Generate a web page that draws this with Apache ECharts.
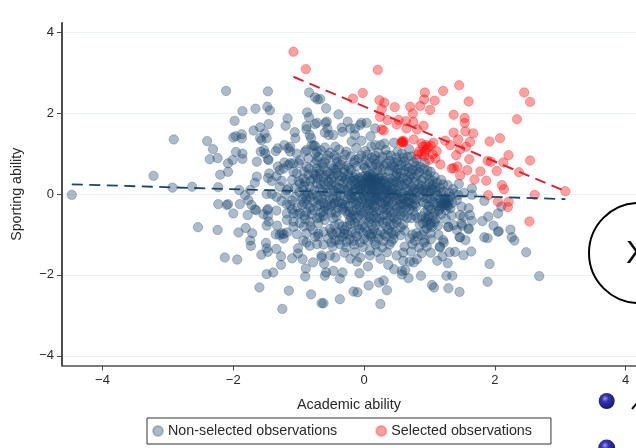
<!DOCTYPE html>
<html><head><meta charset="utf-8">
<style>html,body{margin:0;padding:0;background:#fff;overflow:hidden}#c{width:636px;height:448px}</style>
<script src="https://cdn.jsdelivr.net/npm/echarts@6/dist/echarts.min.js"></script>
</head><body><div id="c"></div>
<script>
const xTicks=[-4,-2,0,2,4];
const yTicks=[-4,-2,0,2,4];
const seriesNames=['Non-selected observations','Selected observations'];
const fitNonSelected=[[-4.47,0.24],[3.08,-0.125]];
const fitSelected=[[-1.08,2.9],[3.08,0.07]];
const selected=[[-1.08,3.52],[-0.89,3.09],[0.21,3.07],[-0.02,2.5],[-0.17,2.36],[0.235,2.32],[0.31,2.26],[0.27,2.1],[0.47,2.15],[0.245,1.91],[0.36,1.83],[0.27,1.6],[0.3,1.57],[0.53,1.83],[0.5,1.72],[0.64,1.8],[0.65,1.62],[0.755,1.78],[0.81,1.6],[0.91,1.69],[0.705,2.16],[0.745,1.99],[0.86,2.18],[0.92,2.34],[0.93,2.51],[1.08,2.31],[1.01,2.08],[1.21,2.55],[1.455,2.69],[1.6,2.29],[1.37,1.96],[1.54,1.88],[1.54,1.76],[1.55,1.55],[1.67,1.5],[1.37,1.52],[1.62,1.29],[1.56,1.17],[1.44,1.35],[1.24,1.32],[1.32,1.21],[1.47,1.11],[1.41,0.96],[1.61,0.86],[1.43,0.68],[1.58,0.59],[1.47,0.46],[1.34,0.63],[1.69,0.36],[1.78,0.56],[1.87,0.33],[2.03,0.57],[1.89,0.82],[1.94,0.8],[2.13,0.78],[2.21,0.96],[1.92,1.3],[2.08,1.38],[2.34,1.85],[2.45,2.51],[2.54,2.28],[2.54,0.83],[2.37,0.54],[2.11,0.22],[2.14,0.12],[2.61,-0.02],[3.08,0.07],[1.9,-0.03],[2.05,-0.19],[2.21,-0.19],[2.2,-0.32],[2.53,-0.68],[0.58,1.31],[0.6,1.27],[0.57,1.27],[0.61,1.31],[0.59,1.29],[0.76,1.35],[0.88,1.25],[0.95,1.21],[1.06,1.27],[1.02,1.2],[1.11,1.06],[0.84,1.05],[0.88,0.99],[0.96,1.1],[0.92,0.94],[1.09,0.88],[1.0,0.85],[1.17,0.73],[1.37,0.64],[0.9,1.18],[0.82,0.98],[0.98,1.16],[1.05,0.98],[0.93,1.05]];
const nonSelectedOuter=[[-4.47,-0.02],[-3.22,0.45],[-2.93,0.16],[-2.91,1.35],[-2.63,0.18],[-2.4,1.31],[-2.31,1.11],[-2.36,0.86],[-2.24,0.89],[-2.23,0.17],[-2.2,0.48],[-2.08,0.55],[-2.08,0.76],[-2.01,0.84],[-2.11,2.55],[-1.47,2.54],[-1.86,2.05],[-1.66,2.11],[-1.48,2.16],[-1.44,2.07],[-1.98,1.81],[-2.0,1.4],[-1.96,1.43],[-1.87,1.48],[-1.87,1.38],[-1.69,1.57],[-1.59,1.65],[-1.46,1.73],[-1.52,1.5],[-1.49,1.38],[-1.59,1.38],[-1.57,1.33],[-1.17,1.87],[-1.2,1.69],[-1.06,1.53],[-1.05,1.38],[-1.96,1.04],[-1.86,1.0],[-1.86,0.87],[-1.64,0.8],[-1.58,1.05],[-1.53,1.09],[-1.51,1.0],[-1.47,0.86],[-1.46,0.84],[-1.35,1.06],[-1.32,1.13],[-1.22,1.21],[-1.13,1.17],[-1.13,1.05],[-1.03,1.0],[-0.9,1.05],[-1.32,0.68],[-1.22,0.78],[-1.23,0.63],[-1.13,0.76],[-1.08,0.55],[-1.0,0.76],[-1.64,0.43],[-1.67,0.28],[-1.47,0.4],[-1.45,0.51],[-1.41,0.32],[-1.34,0.44],[-1.26,0.33],[-1.74,0.1],[-1.91,0.1],[-1.82,-0.03],[-1.77,-0.15],[-1.72,-0.27],[-1.9,-0.25],[-2.23,-0.25],[-2.1,-0.27],[-2.08,-0.25],[-2.0,-0.48],[-1.78,-0.52],[-1.67,-0.38],[-1.65,-0.4],[-1.54,-0.5],[-1.48,-0.4],[-1.34,-0.41],[-1.18,-0.48],[-1.49,0.0],[-1.41,0.0],[-1.34,-0.07],[-1.26,-0.17],[-1.13,-0.27],[-1.18,0.1],[-1.05,-0.07],[-0.84,2.51],[-0.75,2.39],[-0.71,2.34],[-0.87,2.02],[-0.84,1.9],[-0.88,1.68],[-0.88,1.6],[-0.75,1.73],[-0.72,1.76],[-0.83,1.46],[-0.81,1.38],[-0.8,1.21],[-0.77,1.2],[-0.75,1.19],[-0.67,2.35],[-0.58,2.12],[-0.39,1.97],[-0.25,1.79],[-0.57,1.79],[-0.59,1.76],[-0.34,1.64],[-0.33,1.54],[-0.21,1.62],[-0.14,1.62],[-0.06,1.71],[-0.04,1.76],[0.04,1.76],[0.17,1.62],[-0.56,1.62],[-0.6,1.52],[-0.47,1.46],[-0.54,1.46],[0.1,1.43],[-0.04,1.32],[-0.14,1.46],[-0.19,1.3],[-0.44,1.17],[-0.6,1.15],[0.31,1.25],[0.17,1.21],[0.46,1.27],[0.69,1.11],[0.51,1.05],[0.25,1.21],[-1.16,1.13],[-0.88,1.09],[-0.72,1.05],[-0.85,0.88],[-0.75,0.76],[-0.98,0.84],[-0.88,0.67],[-1.08,0.76],[-1.16,0.72],[-1.29,0.59],[-1.03,0.51],[-0.93,0.38],[-0.77,0.51],[-0.72,0.63],[-0.98,0.26],[-0.83,0.18],[-0.72,0.26],[-1.29,0.18],[-1.16,0.14],[-1.06,0.14],[-0.93,0.1],[-2.54,-0.82],[-2.24,-0.89],[-1.92,-0.95],[-1.81,-0.84],[-1.71,-0.97],[-1.74,-1.15],[-1.73,-1.28],[-2.13,-1.57],[-1.94,-1.62],[-1.57,-1.5],[-1.5,-1.21],[-1.49,-1.34],[-1.47,-1.43],[-1.34,-1.36],[-1.27,-1.54],[-1.27,-1.75],[-1.1,-1.59],[-1.01,-1.47],[-1.01,-1.34],[-0.94,-1.61],[-0.78,-1.69],[-0.89,-1.84],[-0.9,-2.04],[-1.39,-1.94],[-1.49,-1.98],[-1.6,-2.31],[-1.15,-2.39],[-0.81,-2.48],[-1.25,-2.84],[-0.65,-2.7],[-1.35,-1.0],[-1.23,-0.99],[-1.18,-0.95],[-1.26,-0.97],[-1.03,-0.99],[-0.93,-1.15],[-0.88,-1.2],[-0.83,-1.28],[-0.72,-1.24],[-1.49,-0.78],[-1.33,-0.78],[-1.08,-0.81],[-1.47,-0.37],[-1.47,-0.54],[-1.46,-0.68],[-1.29,-1.01],[-1.23,-1.1],[-0.75,-1.06],[-0.88,-0.97],[-0.78,-0.89],[-1.18,-0.64],[-1.08,-0.68],[-0.98,-0.72],[-0.95,-0.27],[-0.98,-0.48],[-1.08,-0.48],[-0.88,-0.44],[-0.78,-0.4],[-0.83,-0.68],[-0.72,-0.6],[-0.62,-2.7],[-0.37,-2.6],[-0.16,-2.41],[-0.1,-2.43],[0.07,-2.26],[0.25,-2.72],[0.23,-2.19],[0.3,-2.14],[0.35,-2.38],[0.58,-1.99],[0.68,-2.08],[0.87,-2.02],[1.04,-2.25],[1.07,-2.31],[1.29,-2.33],[1.46,-2.42],[1.26,-2.02],[1.35,-2.02],[1.89,-2.17],[2.68,-2.03],[1.92,-1.73],[2.48,-1.44],[2.3,-1.15],[2.26,-1.07],[2.24,-0.88],[2.06,-0.92],[1.98,-0.78],[1.84,-1.07],[1.89,-1.09],[1.64,-1.42],[1.52,-1.51],[1.39,-1.43],[1.31,-1.44],[1.28,-1.71],[1.12,-1.65],[1.2,-1.54],[1.16,-1.32],[1.22,-1.2],[1.55,-1.14],[1.46,-1.07],[1.6,-0.87],[1.5,-0.78],[1.29,-0.82],[-0.07,-1.96],[-0.33,-1.94],[-0.37,-2.09],[-0.6,-2.02],[-0.47,-1.9],[-0.58,-1.94],[0.06,-1.79],[0.37,-1.75],[0.46,-1.86],[0.58,-1.9],[0.63,-1.88],[0.6,-1.65],[0.81,-1.61],[0.7,-1.67],[0.76,-1.69],[0.5,-1.52],[0.25,-1.6],[0.09,-1.4],[0.09,-1.52],[-0.06,-1.57],[-0.21,-1.6],[-0.44,-1.57],[-0.52,-1.52],[-0.65,-1.57],[-0.61,-1.73],[-0.11,-1.67],[-0.65,-1.52],[1.45,0.25],[1.65,0.14],[1.65,-0.02],[1.84,-0.17],[2.05,-0.48],[2.1,-0.31],[1.9,-0.56],[1.81,-0.67],[2.05,-0.93],[1.6,-0.35],[1.62,-0.52],[1.65,-0.66],[1.6,-0.85],[1.47,-0.52],[1.52,-0.56],[1.49,-0.31],[1.42,-0.15],[1.32,-0.07],[1.44,-0.02],[1.21,0.06],[1.24,-0.15],[1.24,-0.27],[1.29,-0.19],[1.19,-0.31],[1.25,-0.4],[1.32,-0.35],[1.26,-0.22],[1.22,-0.2],[1.27,-0.28],[1.0,-0.77],[1.04,-0.81],[0.96,-0.85],[1.29,-0.81],[1.42,-0.89],[1.49,-0.73],[1.37,-0.77],[1.14,-1.01],[1.21,-1.14],[1.16,-1.3],[1.47,-1.07],[0.96,-1.3],[0.93,-1.14]];
const nonSelectedCore=[[-0.66,1.08],[-0.52,1.02],[-0.38,1.1],[-0.27,1.05],[-0.12,1.14],[0.02,1.06],[0.11,1.18],[0.22,1.03],[0.33,1.09],[0.41,0.95],[0.58,1.0],[0.72,0.93],[-0.7,0.92],[-0.58,0.87],[-0.45,0.95],[-0.33,0.84],[-0.2,0.93],[-0.08,0.88],[0.05,0.97],[0.16,0.85],[0.28,0.92],[0.39,0.82],[0.5,0.9],[0.62,0.8],[0.8,0.86],[-0.64,0.75],[-0.5,0.71],[-0.41,0.79],[-0.26,0.7],[-0.15,0.78],[-0.01,0.72],[0.09,0.76],[0.23,0.68],[0.34,0.75],[0.46,0.67],[0.57,0.72],[0.68,0.66],[0.79,0.7],[0.92,0.62],[1.02,0.55],[-0.68,0.58],[-0.56,0.55],[-0.44,0.6],[-0.31,0.53],[-0.2,0.6],[-0.13,0.48],[0.04,0.6],[0.14,0.52],[0.2,0.58],[0.27,0.46],[0.38,0.57],[0.5,0.52],[0.61,0.58],[0.72,0.5],[0.84,0.54],[0.96,0.48],[1.08,0.43],[1.18,0.35],[-0.85,0.48],[-0.62,0.42],[-0.5,0.37],[-0.38,0.45],[-0.28,0.36],[-0.16,0.42],[-0.04,0.33],[0.06,0.44],[0.13,0.36],[0.22,0.38],[0.33,0.41],[0.45,0.34],[0.55,0.42],[0.66,0.35],[0.76,0.41],[0.88,0.34],[1.0,0.37],[1.12,0.28],[1.28,0.22],[-0.9,0.3],[-0.66,0.24],[-0.55,0.3],[-0.43,0.2],[-0.32,0.28],[-0.2,0.2],[-0.1,0.27],[0.0,0.19],[0.1,0.25],[0.19,0.18],[0.26,0.27],[0.36,0.2],[0.44,0.26],[0.53,0.19],[0.63,0.25],[0.73,0.18],[0.83,0.24],[0.94,0.17],[1.05,0.22],[1.16,0.15],[1.36,0.12],[-0.99,0.05],[-0.86,0.02],[-0.76,0.09],[-0.63,0.06],[-0.52,0.12],[-0.41,0.03],[-0.3,0.1],[-0.18,0.04],[-0.07,0.11],[0.03,0.06],[0.12,0.1],[0.22,0.04],[0.31,0.11],[0.4,0.03],[0.5,0.08],[0.6,0.02],[0.7,0.09],[0.8,0.04],[0.9,0.09],[1.0,0.02],[1.1,0.07],[1.3,0.03],[1.53,0.03],[-0.95,-0.12],[-0.82,-0.08],[-0.7,-0.14],[-0.58,-0.05],[-0.47,-0.11],[-0.36,-0.04],[-0.25,-0.12],[-0.13,-0.06],[-0.03,-0.13],[0.07,-0.05],[0.16,-0.1],[0.26,-0.03],[0.35,-0.12],[0.45,-0.06],[0.55,-0.13],[0.65,-0.05],[0.75,-0.11],[0.85,-0.04],[0.96,-0.11],[1.07,-0.06],[1.16,-0.12],[-1.02,-0.33],[-0.87,-0.26],[-0.72,-0.3],[-0.62,-0.22],[-0.5,-0.29],[-0.39,-0.2],[-0.29,-0.27],[-0.17,-0.21],[-0.07,-0.29],[0.03,-0.22],[0.13,-0.27],[0.24,-0.19],[0.33,-0.28],[0.43,-0.21],[0.54,-0.27],[0.64,-0.2],[0.74,-0.29],[0.95,-0.24],[1.05,-0.2],[1.12,-0.3],[-0.91,-0.53],[-0.66,-0.46],[-0.55,-0.4],[-0.43,-0.46],[-0.33,-0.38],[-0.22,-0.44],[-0.11,-0.37],[-0.01,-0.45],[0.09,-0.39],[0.19,-0.44],[0.29,-0.36],[0.4,-0.43],[0.5,-0.36],[0.6,-0.44],[0.7,-0.37],[0.8,-0.3],[0.98,-0.39],[1.08,-0.46],[1.18,-0.5],[1.34,-0.53],[-0.68,-0.58],[-0.47,-0.6],[-0.2,-0.58],[-0.08,-0.53],[0.03,-0.6],[0.14,-0.53],[0.24,-0.6],[0.35,-0.53],[0.46,-0.59],[0.56,-0.52],[0.66,-0.59],[0.78,-0.53],[0.94,-0.6],[1.05,-0.56],[1.25,-0.62],[-0.9,-0.62],[-0.52,-0.86],[-0.38,-0.74],[-0.26,-0.8],[-0.14,-0.71],[-0.03,-0.77],[0.07,-0.7],[0.18,-0.76],[0.29,-0.7],[0.4,-0.77],[0.5,-0.7],[0.6,-0.76],[0.9,-0.72],[1.13,-0.78],[-0.62,-0.93],[-0.42,-0.95],[-0.3,-0.88],[-0.19,-0.94],[-0.07,-0.87],[0.05,-0.93],[0.15,-0.87],[0.26,-0.93],[0.37,-0.88],[0.48,-0.94],[0.62,-0.9],[0.8,-0.97],[0.92,-0.91],[1.02,-0.97],[-0.7,-1.05],[-0.55,-1.1],[-0.44,-1.15],[-0.33,-1.05],[-0.22,-1.12],[-0.11,-1.04],[0.0,-1.11],[0.11,-1.05],[0.22,-1.1],[0.34,-1.04],[0.45,-1.11],[0.7,-1.1],[0.82,-1.05],[1.02,-1.12],[-0.62,-1.25],[-0.48,-1.3],[-0.37,-1.24],[-0.27,-1.32],[-0.15,-1.25],[-0.02,-1.31],[0.18,-1.25],[0.28,-1.32],[0.39,-1.25],[0.62,-1.3],[0.74,-1.24],[0.84,-1.32],[-0.3,-1.45],[-0.14,-1.44],[0.2,-1.43],[0.35,-1.44],[0.6,-1.45],[0.72,-1.42],[0.88,-1.46],[1.02,-1.45],[0.02,0.45],[0.1,0.48],[0.05,0.4],[-0.03,0.42],[0.15,0.43],[0.08,0.32],[-0.12,0.35],[0.2,0.28],[0.0,0.28],[0.12,0.15],[-0.04,0.12],[0.34,0.05],[0.28,-0.07],[0.42,0.14],[-0.22,-0.02],[-0.38,0.15],[0.18,-0.18],[0.05,-0.3],[-0.1,-0.18],[-0.32,-0.33],[0.38,-0.31],[0.6,-0.12],[0.78,0.12],[0.54,0.3],[0.68,-0.22],[-0.52,0.5],[-0.4,0.66],[-0.75,1.0],[-0.78,0.38],[-0.6,-0.32],[0.45,-1.0],[0.12,-0.98],[0.1,-0.62],[-0.16,-0.52],[0.88,-0.55]];
const nonSelectedDense=[[-0.55,0.95],[-0.42,0.88],[-0.29,0.97],[-0.14,0.84],[-0.04,0.95],[0.12,0.9],[0.24,0.82],[0.36,0.96],[0.47,0.78],[0.66,0.92],[0.76,0.78],[-0.62,0.66],[-0.47,0.63],[-0.36,0.73],[-0.23,0.64],[-0.11,0.69],[0.01,0.65],[0.13,0.68],[0.18,0.74],[0.29,0.6],[0.42,0.71],[0.52,0.62],[0.64,0.69],[0.74,0.6],[0.86,0.67],[0.97,0.58],[-0.74,0.47],[-0.58,0.46],[-0.47,0.44],[-0.34,0.42],[-0.24,0.48],[-0.17,0.33],[0.03,0.37],[0.11,0.41],[0.17,0.31],[0.24,0.41],[0.3,0.33],[0.4,0.38],[0.49,0.44],[0.6,0.39],[0.7,0.43],[0.81,0.46],[0.91,0.4],[1.05,0.33],[-0.82,0.32],[-0.71,0.38],[-0.59,0.2],[-0.47,0.29],[-0.37,0.33],[-0.25,0.3],[-0.14,0.24],[-0.05,0.21],[0.05,0.29],[0.14,0.21],[0.23,0.22],[0.32,0.26],[0.39,0.29],[0.49,0.3],[0.58,0.22],[0.68,0.29],[0.78,0.3],[0.88,0.2],[1.0,0.26],[1.09,0.17],[1.21,0.24],[-0.9,-0.03],[-0.79,-0.01],[-0.68,0.12],[-0.56,0.04],[-0.46,0.08],[-0.35,0.13],[-0.25,0.07],[-0.13,0.13],[-0.02,0.03],[0.07,0.13],[0.17,0.07],[0.27,0.13],[0.36,0.09],[0.45,0.11],[0.55,0.05],[0.65,0.13],[0.75,0.06],[0.85,0.12],[0.95,0.04],[1.05,0.11],[1.18,0.02],[-0.92,-0.2],[-0.77,-0.18],[-0.65,-0.1],[-0.53,-0.14],[-0.42,-0.07],[-0.31,-0.15],[-0.2,-0.09],[-0.08,-0.03],[0.02,-0.09],[0.11,-0.02],[0.21,-0.13],[0.31,-0.01],[0.4,-0.09],[0.5,-0.02],[0.57,-0.08],[0.7,-0.03],[0.8,-0.13],[0.9,-0.07],[1.02,-0.13],[1.12,-0.03],[-0.82,-0.34],[-0.67,-0.26],[-0.56,-0.28],[-0.45,-0.23],[-0.34,-0.24],[-0.23,-0.3],[-0.12,-0.25],[-0.02,-0.2],[0.08,-0.25],[0.17,-0.32],[0.28,-0.24],[0.37,-0.18],[0.48,-0.3],[0.58,-0.24],[0.69,-0.17],[0.78,-0.25],[0.9,-0.2],[0.99,-0.3],[1.09,-0.22],[-0.8,-0.5],[-0.62,-0.42],[-0.5,-0.46],[-0.4,-0.34],[-0.28,-0.43],[-0.17,-0.42],[-0.06,-0.41],[0.04,-0.36],[0.14,-0.42],[0.24,-0.4],[0.34,-0.39],[0.45,-0.46],[0.55,-0.41],[0.65,-0.33],[0.75,-0.42],[0.93,-0.45],[1.03,-0.38],[1.14,-0.42],[-0.62,-0.54],[-0.42,-0.55],[-0.24,-0.51],[-0.12,-0.6],[-0.02,-0.52],[0.08,-0.56],[0.19,-0.6],[0.3,-0.52],[0.41,-0.55],[0.5,-0.63],[0.61,-0.54],[0.72,-0.6],[0.99,-0.55],[1.1,-0.62],[-0.45,-0.78],[-0.33,-0.8],[-0.2,-0.74],[-0.09,-0.76],[0.01,-0.83],[0.12,-0.77],[0.23,-0.68],[0.34,-0.8],[0.45,-0.74],[0.56,-0.82],[0.95,-0.69],[1.08,-0.7],[-0.48,-1.0],[-0.36,-0.97],[-0.25,-1.0],[-0.13,-0.97],[-0.02,-0.96],[0.09,-1.0],[0.2,-0.98],[0.31,-1.0],[0.42,-0.95],[0.56,-1.02],[0.74,-1.0],[0.88,-1.01],[-0.5,-1.2],[-0.38,-1.14],[-0.27,-1.18],[-0.16,-1.16],[-0.06,-1.2],[0.06,-1.16],[0.16,-1.18],[0.3,-1.16],[0.42,-1.18],[0.78,-1.16],[0.92,-1.2],[-0.72,0.83],[-0.6,0.78],[-0.92,0.55],[-0.84,0.63],[-0.68,0.5],[-0.92,0.2],[-0.62,0.3],[-0.5,0.22],[-1.0,0.32],[-1.1,0.35],[-0.88,-0.12],[-0.72,-0.05],[-1.1,-0.16],[-1.18,-0.25],[-1.02,-0.5],[-0.92,-0.8],[-0.7,-0.72],[-0.82,-0.8],[-0.7,-0.98],[0.02,0.83],[0.17,0.95],[0.31,0.7],[0.44,0.58],[-0.08,0.4],[0.1,0.36],[0.18,0.35],[0.25,0.32],[0.07,0.25],[0.12,0.28],[-0.07,0.18],[0.02,0.14],[0.18,0.13],[0.25,0.18],[0.33,0.15],[-0.15,0.08],[-0.24,0.14],[0.12,0.04],[0.44,0.02],[0.2,-0.05],[0.0,-0.05],[-0.17,-0.12],[0.33,-0.18],[0.5,-0.15],[0.15,-0.16],[0.62,-0.27],[0.73,-0.08],[0.95,0.12],[1.22,-0.1],[1.18,-0.22],[1.28,-0.12],[1.2,-0.25],[1.29,-0.3],[1.15,-0.38],[0.97,-0.62],[1.02,-0.72],[-0.42,0.52],[-0.3,0.6],[-0.22,0.4],[0.56,0.52],[0.68,0.55],[0.82,0.62],[0.93,0.78],[0.52,0.8],[0.6,0.9],[-0.6,-0.64],[-0.5,-0.95],[-0.22,-0.66],[-0.3,-0.98],[0.35,-0.66],[0.85,-0.75],[0.82,-0.6],[-0.46,-0.22],[0.1,-0.14],[-1.2,0.0],[-1.1,-0.38],[1.38,0.02],[1.35,-0.22],[1.02,0.12]];
const nonSelected=nonSelectedOuter.concat(nonSelectedCore,nonSelectedDense);

const axisGrey='#4d4d4d';
const textColor='#2a2a2a';
const fontFamily='"Liberation Sans",Arial,sans-serif';
const minus=v=>String(v).replace('-','\u2212');
const gridLine={show:true,lineStyle:{color:'#eaf2f3',width:1}};
const chart=echarts.init(document.getElementById('c'),null,{renderer:'canvas'});
const scatterStyle=(rgb)=>({color:`rgba(${rgb},0.46)`,borderColor:`rgba(${rgb},0.36)`,borderWidth:1});
const sphere=()=>new echarts.graphic.RadialGradient(0.4,0.35,0.7,[{offset:0,color:'#9a9ae6'},{offset:0.3,color:'#3535b0'},{offset:1,color:'#15156a'}]);
chart.setOption({
  animation:false,
  textStyle:{fontFamily},
  grid:{left:62,right:0,top:23,bottom:82.5},
  legend:{left:147,top:418,padding:[6,19,6,5],itemWidth:10,itemHeight:10,itemGap:38,icon:'circle',
    borderColor:'#333',borderWidth:1,borderRadius:0,
    data:seriesNames,textStyle:{fontSize:14.3,color:textColor,fontFamily}},
  xAxis:{type:'value',min:-4.62,max:4.16,name:'Academic ability',nameLocation:'middle',nameGap:33,
    nameTextStyle:{fontSize:14.4,color:textColor},
    axisLine:{show:true,onZero:false,lineStyle:{color:axisGrey,width:1.5}},
    axisTick:{show:true,length:5,customValues:xTicks,lineStyle:{color:axisGrey,width:1}},
    axisLabel:{customValues:xTicks,formatter:minus,fontSize:13,color:textColor,margin:8},
    splitLine:{show:false}},
  yAxis:{type:'value',min:-4.24,max:4.23,name:'Sporting ability',nameLocation:'middle',nameGap:38,
    nameTextStyle:{fontSize:14.2,color:textColor},
    axisLine:{show:true,onZero:false,lineStyle:{color:axisGrey,width:2}},
    axisTick:{show:true,length:5,customValues:yTicks,lineStyle:{color:axisGrey,width:1}},
    axisLabel:{customValues:yTicks,formatter:minus,fontSize:13,color:textColor,margin:8},
    splitLine:Object.assign({customValues:yTicks},gridLine)},
  series:[
    {name:seriesNames[0],type:'scatter',data:nonSelected,symbolSize:9.4,itemStyle:scatterStyle('26,71,111'),z:2},
    {name:seriesNames[1],type:'scatter',data:selected,symbolSize:9.4,itemStyle:scatterStyle('255,0,0'),z:3},
    {type:'line',data:fitNonSelected,showSymbol:false,silent:true,z:4,lineStyle:{color:'#1a476f',width:1.8,type:[11,6.5]}},
    {type:'line',data:fitSelected,showSymbol:false,silent:true,z:4,lineStyle:{color:'#e0202e',width:2,type:[11,6.5]}}
  ],
  graphic:[
    {type:'circle',shape:{cx:639,cy:253,r:50},style:{fill:'#fff',stroke:'#000',lineWidth:2},z:10},
    {type:'text',style:{x:626,y:254,text:'X',font:'32px "Liberation Sans"',fill:'#111',textVerticalAlign:'middle'},z:11},
    {type:'circle',shape:{cx:606.7,cy:401,r:8},z:10,style:{fill:sphere()}},
    {type:'circle',shape:{cx:606.7,cy:448,r:8.5},z:10,style:{fill:sphere()}},
    {type:'line',shape:{x1:632,y1:409,x2:637,y2:403},z:11,style:{stroke:'#111',lineWidth:2}}
  ]
});
</script></body></html>
